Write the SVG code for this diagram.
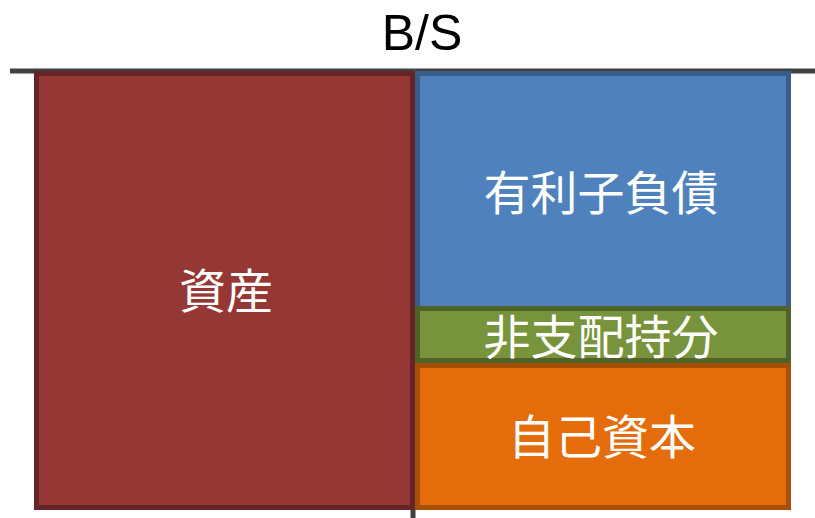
<svg xmlns="http://www.w3.org/2000/svg" width="815" height="518" viewBox="0 0 815 518">
<style>
.lbl{font-family:"Noto Sans CJK JP","Noto Sans",sans-serif;fill:#fff;text-anchor:middle;dominant-baseline:central;font-size:47px}
.box{stroke-width:5}
</style>
<rect width="815" height="518" fill="#fff"/>
<g id="connectors">
<line x1="10" y1="71" x2="815" y2="71" stroke="#404040" stroke-width="5"/>
<line x1="413" y1="71" x2="413" y2="518" stroke="#404040" stroke-width="5"/>
</g>
<text x="422" y="33" font-family="Liberation Sans,Arial,sans-serif" font-size="50" fill="#000" text-anchor="middle" dominant-baseline="central">B/S</text>
<g id="assets">
<rect class="box" x="36.5" y="73.5" width="376" height="434" fill="#953735" stroke="#652426"/>
<text class="lbl" x="226" y="287">資産</text>
</g>
<g id="debt">
<rect class="box" x="417.5" y="73.5" width="371" height="235" fill="#4F81BD" stroke="#385D8A"/>
<text class="lbl" x="601" y="189">有利子負債</text>
</g>
<g id="nci">
<rect class="box" x="417.5" y="308.5" width="371" height="52" fill="#77933C" stroke="#4F6228"/>
<text class="lbl" x="601" y="333">非支配持分</text>
</g>
<g id="equity">
<rect class="box" x="417.5" y="365.5" width="371" height="142" fill="#E46C0A" stroke="#A64F09"/>
<text class="lbl" x="602" y="433">自己資本</text>
</g>
</svg>
